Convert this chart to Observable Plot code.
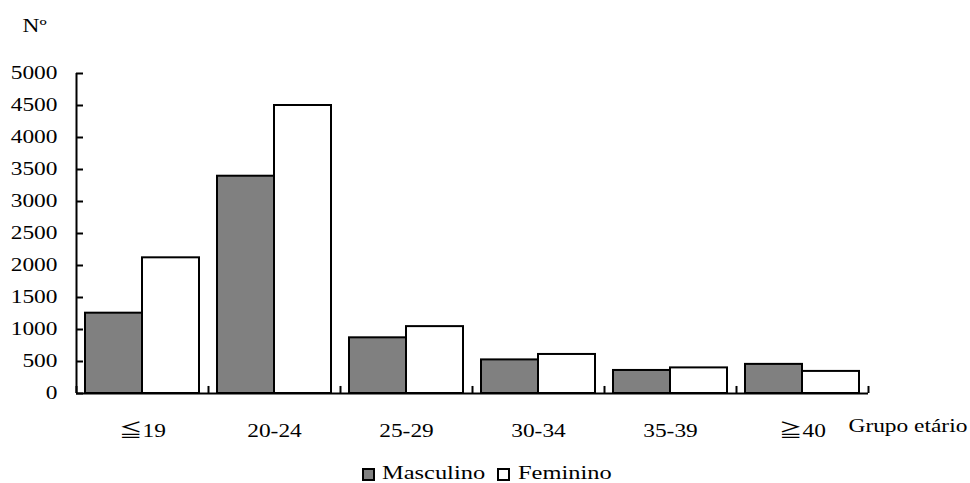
<!DOCTYPE html>
<html>
<head>
<meta charset="utf-8">
<script src="https://cdn.jsdelivr.net/npm/d3@7"></script>
<script src="https://cdn.jsdelivr.net/npm/@observablehq/plot@0.6"></script>
<style>
  body { margin: 0; background: #fff; }
  #wrap { position: relative; width: 970px; height: 483px; font-family: "Liberation Serif", "Noto Sans CJK JP", serif; }
  #legend { position: relative; width: 970px; height: 23px; }
  .sw { position: absolute; top: 8px; width: 9px; height: 9px; border: 2px solid #000; box-sizing: content-box; }
  .lt { position: absolute; top: 4px; font-size: 18.5px; line-height: 18px; transform: scaleX(1.32); transform-origin: left center; white-space: nowrap; }
</style>
</head>
<body>
<div id="wrap">
  <div id="chart"></div>
  <div id="legend"></div>
</div>
<script>
const categories = ["≦19", "20-24", "25-29", "30-34", "35-39", "≧40"];
const masculino = [1255, 3395, 870, 525, 360, 455];
const feminino = [2120, 4500, 1045, 610, 400, 345];
const yTicks = [0, 500, 1000, 1500, 2000, 2500, 3000, 3500, 4000, 4500, 5000];
const seriesNames = ["Masculino", "Feminino"];
const seriesColors = ["#808080", "#ffffff"];
const yLabel = "Nº";
const xLabel = "Grupo etário";

const idx = categories.map((c, i) => i);
const bounds = d3.range(categories.length + 1);

const chart = Plot.plot({
  width: 970,
  height: 460,
  marginLeft: 76,
  marginRight: 102,
  marginTop: 73,
  marginBottom: 67,
  style: { fontFamily: "'Liberation Serif', 'Noto Sans CJK JP', serif", fontSize: "18px", color: "#000", background: "#fff" },
  x: {
    domain: [0, categories.length],
    ticks: idx.map(i => i + 0.5),
    tickFormat: d => categories[Math.floor(d)],
    tickSize: 0,
    tickPadding: 31,
    label: null
  },
  y: {
    domain: [0, 5000],
    ticks: yTicks,
    tickFormat: d => String(d),
    tickSize: 0,
    tickPadding: 19,
    label: null
  },
  marks: [
    Plot.rectY(idx, { x1: i => i, x2: i => i + 1, y1: 0, y2: i => masculino[i], insetLeft: 9, insetRight: 66, fill: seriesColors[0], stroke: "#000", strokeWidth: 2 }),
    Plot.rectY(idx, { x1: i => i, x2: i => i + 1, y1: 0, y2: i => feminino[i], insetLeft: 66, insetRight: 9, fill: seriesColors[1], stroke: "#000", strokeWidth: 2 }),
    Plot.ruleY(yTicks, { y: d => d, x1: 0, x2: 7 / 132, stroke: "#000", strokeWidth: 2 }),
    Plot.ruleX(bounds, { x: d => d, y1: 0, y2: 110, stroke: "#000", strokeWidth: 2 }),
    Plot.ruleY([0], { stroke: "#000", strokeWidth: 2 }),
    Plot.ruleX([0], { stroke: "#000", strokeWidth: 2 }),
    Plot.text([yLabel], { frameAnchor: "top-left", dx: -54, dy: -42, textAnchor: "start", lineAnchor: "bottom", fontSize: 18 }),
    Plot.text([xLabel], { frameAnchor: "bottom-right", dx: -20, dy: 38, textAnchor: "start", lineAnchor: "bottom", fontSize: 18 })
  ]
});

chart.querySelectorAll("text").forEach(t => {
  const tr = t.getAttribute("transform") || "";
  t.setAttribute("transform", (tr + " scale(1.3,1)").trim());
});

document.getElementById("chart").appendChild(chart);

const legend = document.getElementById("legend");
const swLeft = [362, 497];
const txLeft = [382, 518];
seriesNames.forEach((name, i) => {
  const sw = document.createElement("div");
  sw.className = "sw";
  sw.style.left = swLeft[i] + "px";
  sw.style.background = seriesColors[i];
  legend.appendChild(sw);
  const lt = document.createElement("div");
  lt.className = "lt";
  lt.style.left = txLeft[i] + "px";
  lt.textContent = name;
  legend.appendChild(lt);
});
</script>
</body>
</html>
